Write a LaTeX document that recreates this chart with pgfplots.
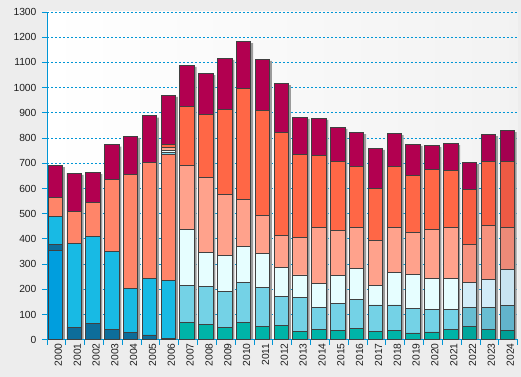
\documentclass[border=0pt]{standalone}
\usepackage{pgfplots}
\pgfplotsset{compat=1.18}
\usepackage{pgfplotstable}
\usepackage{fontspec}
\setmainfont{Liberation Sans}

\definecolor{axisblue}{RGB}{0,150,214}
\definecolor{barborder}{RGB}{64,64,64}
\definecolor{bgout}{RGB}{237,237,237}
\definecolor{shadowgray}{RGB}{155,155,155}
\definecolor{labelgray}{RGB}{30,30,30}
% 2000-2006 palette
\definecolor{cA}{RGB}{0,158,222}
\definecolor{cB0}{RGB}{13,109,154}
\definecolor{cC0}{RGB}{24,186,228}
\definecolor{cE0}{RGB}{255,133,105}
% 2007-2021 palette
\definecolor{cB1}{RGB}{0,180,168}
\definecolor{cC1}{RGB}{116,210,230}
\definecolor{cD1}{RGB}{230,254,255}
\definecolor{cE1}{RGB}{255,162,140}
\definecolor{cF1}{RGB}{255,103,70}
\definecolor{cH1}{RGB}{178,0,80}
% 2022-2023 palette
\definecolor{cB2}{RGB}{0,166,156}
\definecolor{cC2}{RGB}{104,190,210}
\definecolor{cD2}{RGB}{210,236,248}
\definecolor{cE2}{RGB}{246,146,126}
\definecolor{cF2}{RGB}{248,94,66}
\definecolor{cH2}{RGB}{170,0,80}
% 2024 palette
\definecolor{cB3}{RGB}{0,158,150}
\definecolor{cC3}{RGB}{98,180,204}
\definecolor{cD3}{RGB}{201,228,241}
\definecolor{cE3}{RGB}{236,138,120}
\definecolor{cF3}{RGB}{238,90,68}
\definecolor{cH3}{RGB}{164,0,80}
% 2006 thin strips
\definecolor{cS2}{RGB}{128,216,238}
\definecolor{cS3}{RGB}{236,255,255}
\definecolor{cS4}{RGB}{255,168,144}

\pgfplotstableread{
x A B C D E S2 S3 S4 F H T
0 355 24 110 0 75 0 0 0 0 128 692
1 0 50 333 0 126 0 0 0 0 152 661
2 0 66 344 0 136 0 0 0 0 118 664
3 0 42 310 0 283 0 0 0 0 138 773
4 0 30 175 0 452 0 0 0 0 151 808
5 0 19 226 0 459 0 0 0 0 184 888
6 0 4 230 0 500 8 10 12 12 194 970
7 0 69 148 222 253 0 0 0 234 163 1089
8 0 62 151 135 297 0 0 0 249 163 1057
9 0 50 143 143 241 0 0 0 336 204 1117
10 0 69 160 142 187 0 0 0 440 186 1184
11 0 54 155 135 150 0 0 0 416 203 1113
12 0 58 115 115 127 0 0 0 408 194 1017
13 0 34 135 88 150 0 0 0 329 147 883
14 0 42 86 97 222 0 0 0 283 149 879
15 0 38 107 111 179 0 0 0 272 136 843
16 0 46 115 123 163 0 0 0 240 136 823
17 0 34 104 79 178 0 0 0 206 159 760
18 0 38 100 130 179 0 0 0 241 131 819
19 0 27 99 134 167 0 0 0 226 123 776
20 0 31 91 122 195 0 0 0 237 95 771
21 0 42 80 122 203 0 0 0 226 106 779
22 0 54 76 99 150 0 0 0 218 107 704
23 0 42 88 111 214 0 0 0 253 107 815
24 0 38 100 142 167 0 0 0 261 123 831
}\datatable

% one layer of a column, kept only for the years lo..hi (0 elsewhere)
\newcommand{\layer}[4]{%
  \addplot[fill=#4, y filter/.expression={((x>#2-0.5) && (x<#3+0.5)) ? y : 0}]
    table[x=x,y=#1]{\datatable};}

\begin{document}
\begin{tikzpicture}
\fill[bgout] (-47pt,-37pt) rectangle (474pt,340pt);
% background, grid and bar shadows
\begin{axis}[
  scale only axis, width=471pt, height=328pt,
  xmin=-0.5, xmax=24.5, ymin=0, ymax=1300,
  axis line style={draw=none},
  xtick=\empty, ytick={100,200,...,1300}, yticklabels={},
  major tick length=0pt, tick style={draw=none},
  ymajorgrids, grid style={axisblue, dash pattern=on 2.5pt off 1.5pt, line width=0.9pt},
  axis background/.style={left color=white, right color=black!5},
  ybar, bar width=0.77, bar shift=1.2pt,
]
\addplot[fill=shadowgray, draw=none] table[x=x, y expr=\thisrow{T}-7]{\datatable};
\end{axis}
% stacked bars
\begin{axis}[
  scale only axis, width=471pt, height=328pt,
  xmin=-0.5, xmax=24.5, ymin=0, ymax=1300,
  ybar stacked, bar width=0.77, bar shift=-1pt,
  axis x line*=bottom, axis y line*=left,
  axis line style={axisblue, line width=0.9pt},
  tick style={axisblue, line width=0.9pt},
  tick align=outside, major tick length=5pt,
  ytick={0,100,...,1300},
  xtick={-0.5,0.5,...,24.5}, xticklabels={},
  extra x ticks={0,1,...,24},
  extra x tick labels={2000,2001,2002,2003,2004,2005,2006,2007,2008,2009,2010,2011,2012,2013,2014,2015,2016,2017,2018,2019,2020,2021,2022,2023,2024},
  extra x tick style={major tick length=0pt, tick style={draw=none}, xticklabel style={xshift=2pt, rotate=90, anchor=east}},
  ticklabel style={font=\fontsize{10.3}{12}\selectfont, text=labelgray},
  yticklabel style={xshift=-2pt},
  /pgf/number format/assume math mode=true,
  /pgf/number format/1000 sep={},
  every axis plot/.append style={draw=barborder, line width=0.9pt},
]
\layer{A}{0}{0}{cA}
\layer{B}{0}{6}{cB0}
\layer{B}{7}{21}{cB1}
\layer{B}{22}{23}{cB2}
\layer{B}{24}{24}{cB3}
\layer{C}{0}{6}{cC0}
\layer{C}{7}{21}{cC1}
\layer{C}{22}{23}{cC2}
\layer{C}{24}{24}{cC3}
\layer{D}{7}{21}{cD1}
\layer{D}{22}{23}{cD2}
\layer{D}{24}{24}{cD3}
\layer{E}{0}{6}{cE0}
\layer{E}{7}{21}{cE1}
\layer{E}{22}{23}{cE2}
\layer{E}{24}{24}{cE3}
\layer{S2}{6}{6}{cS2}
\layer{S3}{6}{6}{cS3}
\layer{S4}{6}{6}{cS4}
\layer{F}{0}{21}{cF1}
\layer{F}{22}{23}{cF2}
\layer{F}{24}{24}{cF3}
\layer{H}{0}{21}{cH1}
\layer{H}{22}{23}{cH2}
\layer{H}{24}{24}{cH3}
\end{axis}
\end{tikzpicture}
\end{document}
